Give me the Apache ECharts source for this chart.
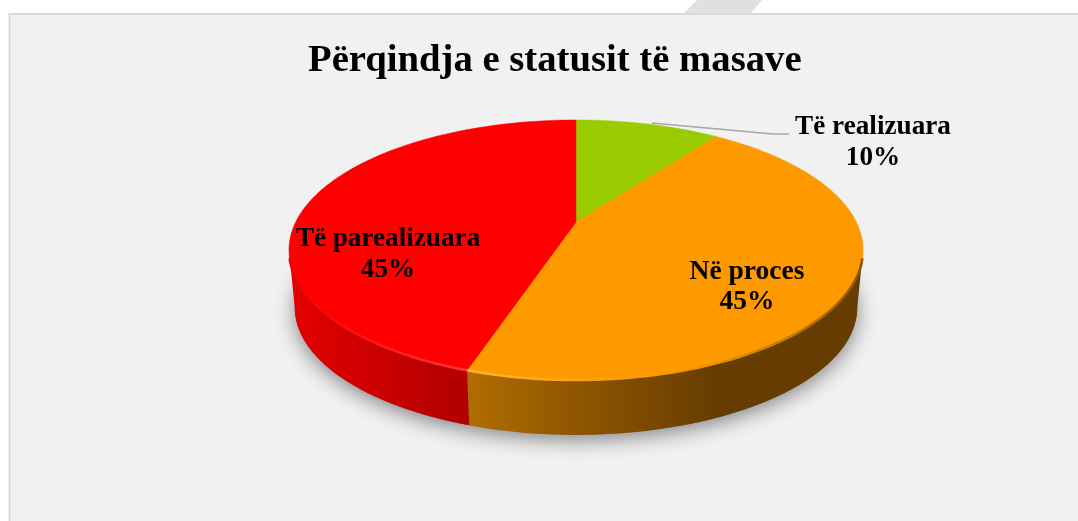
<!DOCTYPE html>
<html>
<head>
<meta charset="utf-8">
<style>html,body{margin:0;padding:0;background:#fff}#c{width:1078px;height:521px}</style>
<script src="https://cdn.jsdelivr.net/npm/echarts@6/dist/echarts.min.js"></script>
</head>
<body>
<div id="c"></div>
<script>
var titleText = 'Përqindja e statusit të masave';
var categories = ['Të realizuara', 'Në proces', 'Të parealizuara'];
var values = [10, 45, 45];
var percentLabels = ['10%', '45%', '45%'];

// Layout only: view of the tilted disc and where the labels sit
var view = { cx: 576, cy: 222, A: 280.3, B: 124, k: 0.2154, depth: 58, lowerScale: 0.98 };
var labelPos = [[873, 127, 158, 27.2], [747, 272, 302, 27.5], [388, 239, 270, 27.2]];
var font = '"Liberation Serif","Times New Roman",serif';
var topColors = ['#99cc00', '#ff9900', '#ff0000'];

var total = values.reduce(function (a, b) { return a + b; }, 0);
var spans = [], acc = 0;
values.forEach(function (v) {
  var s = acc / total * 360; acc += v;
  spans.push([s, acc / total * 360]);
});

function proj(deg, lower) {
  var t = deg * Math.PI / 180, u = Math.sin(t), v = -Math.cos(t), d = 1 - view.k * v;
  var s = lower ? view.lowerScale : 1;
  return [view.cx + s * view.A * u / d, view.cy + (lower ? view.depth : 0) + s * view.B * v / d];
}
function arc(a, b, lower) {
  var pts = [], n = Math.max(2, Math.ceil(Math.abs(b - a) / 1.5));
  for (var i = 0; i <= n; i++) pts.push(proj(a + (b - a) * i / n, lower));
  return pts;
}
function grad(x1, x2, stops) {
  return new echarts.graphic.LinearGradient(x1, 0, x2, 0, stops, true);
}
var wallFill = [
  null,
  function () { return grad(471, 720, [{offset: 0, color: '#b06c00'}, {offset: .45, color: '#8c5500'}, {offset: 1, color: '#663c00'}]); },
  function () { return grad(292, 472, [{offset: 0, color: '#e40000'}, {offset: 1, color: '#b00000'}]); }
];
var rimFill = [
  null,
  function () { return grad(471, 862, [{offset: 0, color: '#ffb52a'}, {offset: .55, color: '#f59400'}, {offset: .8, color: '#c97c00'}, {offset: 1, color: '#8a5400'}]); },
  function () { return grad(290, 472, [{offset: 0, color: '#f00000'}, {offset: 1, color: '#ff3a3a'}]); }
];
var frontFrom = 102.4, frontTo = 257.6;

var rows = categories.map(function (c, i) { return { name: c, value: values[i] }; });

function shadowItem() {
  return { type: 'polygon', shape: { points: arc(0, 360, true) },
    style: { fill: '#8a8a8a', shadowBlur: 20, shadowColor: 'rgba(0,0,0,0.45)', shadowOffsetY: 5 } };
}
function wallItem(p, api) {
  var i = api.value(1), a = Math.max(spans[i][0], frontFrom), b = Math.min(spans[i][1], frontTo);
  if (a >= b || !wallFill[i]) return { type: 'group', children: [] };
  return { type: 'polygon', shape: { points: arc(a, b, false).concat(arc(b, a, true)) },
    style: { fill: wallFill[i](), stroke: null } };
}
function topItem(p, api) {
  var i = api.value(1);
  return { type: 'polygon', shape: { points: [[view.cx, view.cy]].concat(arc(spans[i][0], spans[i][1], false)) },
    style: { fill: topColors[i], stroke: topColors[i], lineWidth: 0.5 } };
}
function rimItem(p, api) {
  var i = api.value(1), a = Math.max(spans[i][0], 106), b = Math.min(spans[i][1], 254);
  if (a >= b || !rimFill[i]) return { type: 'group', children: [] };
  return { type: 'polyline', shape: { points: arc(a, b, false) },
    style: { fill: null, stroke: rimFill[i](), lineWidth: 2.5 } };
}
function labelItem(p, api) {
  var i = api.value(1), lp = labelPos[i], kids = [];
  [[categories[i], lp[1]], [percentLabels[i], lp[2]]].forEach(function (t) {
    kids.push({ type: 'text', style: { text: t[0], x: lp[0], y: t[1], textAlign: 'center', textVerticalAlign: 'middle',
      font: 'bold ' + lp[3] + 'px ' + font, fill: '#000' } });
  });
  if (i === 0) {
    var mid = proj((spans[0][0] + spans[0][1]) / 2, false);
    kids.push({ type: 'polyline', shape: { points: [[mid[0] + 4, mid[1] - 1], [773, 134], [789, 134]] },
      style: { fill: null, stroke: '#a6a6a6', lineWidth: 1.5 } });
  }
  return { type: 'group', children: kids };
}
function layer(fn, z, data) {
  return { type: 'custom', coordinateSystem: 'none', z: z, silent: true, animation: false, renderItem: fn,
    clip: false, encode: { value: 0 }, data: data };
}
var indexed = rows.map(function (r, i) { return { name: r.name, value: [r.value, i] }; });

var chart = echarts.init(document.getElementById('c'), null, { renderer: 'canvas' });
chart.setOption({
  animation: false,
  backgroundColor: '#ffffff',
  title: { text: titleText, left: 303, top: 37,
    textStyle: { fontFamily: font, fontWeight: 'bold', fontSize: 38.7, color: '#000' } },
  graphic: [
    { type: 'polygon', z: -10, shape: { points: [[697, 0], [762, 0], [750, 14], [683, 14]] }, style: { fill: '#e0e0e0' } },
    { type: 'rect', z: -9, shape: { x: 9.5, y: 14, width: 1090, height: 530 },
      style: { fill: '#f1f1f1', stroke: '#d9d9d9', lineWidth: 2 } }
  ],
  series: [
    layer(shadowItem, 1, [indexed[0]]),
    layer(wallItem, 2, indexed),
    layer(topItem, 3, indexed),
    layer(rimItem, 4, indexed),
    layer(labelItem, 5, indexed)
  ]
});
</script>
</body>
</html>
